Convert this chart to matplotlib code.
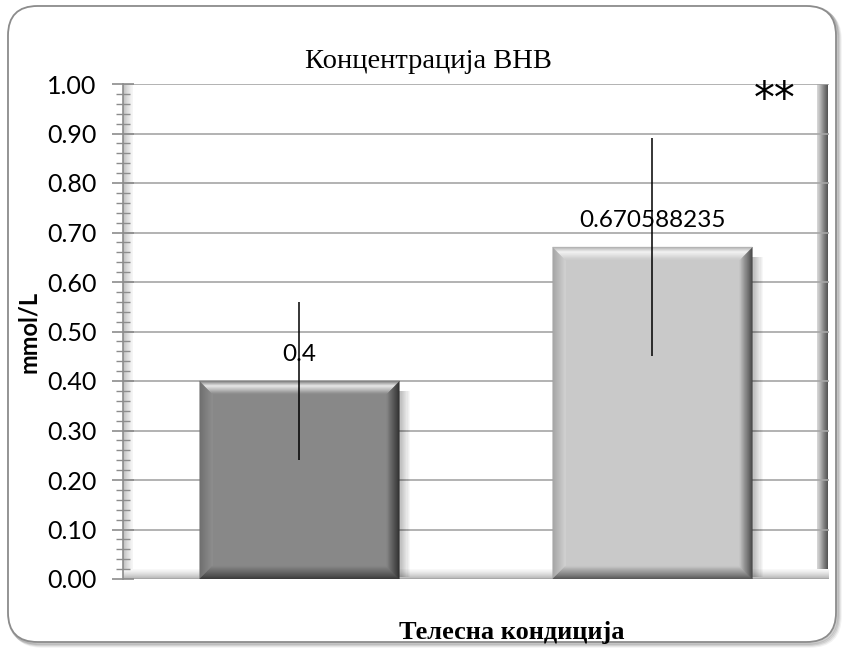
import numpy as np
import matplotlib
matplotlib.use("Agg")
import matplotlib.pyplot as plt
from matplotlib.patches import FancyBboxPatch, Rectangle, Polygon
from matplotlib.ticker import MultipleLocator

categories = ["1", "2"]
values = [0.4, 0.670588235]
errors = [0.16, 0.22]
labels = ["0.4", "0.670588235"]
bar_colors = ["#888888", "#c9c9c9"]
yticks = [0.0, 0.1, 0.2, 0.3, 0.4, 0.5, 0.6, 0.7, 0.8, 0.9, 1.0]
title = "Концентрација BHB"
xlabel = "Телесна кондиција"
ylabel = "mmol/L"

W, H = 845, 656
fig = plt.figure(figsize=(W / 100, H / 100), dpi=100)
fig.patch.set_facecolor("white")

# outer rounded frame with shadow
for i, a in enumerate([0.05, 0.07, 0.09, 0.11]):
    off = (4 - i) * 1.0
    sh = FancyBboxPatch((8 / W + off / W, 14 / H - off / H), 828 / W, 636 / H,
                        boxstyle="round,pad=0,rounding_size=0.035", transform=fig.transFigure,
                        facecolor="none", edgecolor="black", alpha=a, lw=2.5, zorder=0,
                        mutation_aspect=W / H)
    fig.patches.append(sh)
frame = FancyBboxPatch((8 / W, 14 / H), 828 / W, 636 / H,
                       boxstyle="round,pad=0,rounding_size=0.035", transform=fig.transFigure,
                       facecolor="white", edgecolor="#8c8c8c", lw=1.3, zorder=1,
                       mutation_aspect=W / H)
fig.patches.append(frame)

left, right, top, bottom = 123, 829, 84, 579
ax = fig.add_axes([left / W, 1 - bottom / H, (right - left) / W, (bottom - top) / H])
ax.set_zorder(2)
ax.set_facecolor("none")

# walls / floor gradients
g = np.linspace(0, 1, 64).reshape(1, -1)
ax.imshow(g, extent=(0.983, 0.998, 0.02, 1.0), transform=ax.transAxes, cmap="Greys",
          vmin=-0.5, vmax=1.5, aspect="auto", zorder=0.5, interpolation="bilinear")
ax.imshow(1 - g, extent=(0.0, 0.013, 0.0, 1.0), transform=ax.transAxes, cmap="Greys",
          vmin=-0.2, vmax=3.0, aspect="auto", zorder=0.5, interpolation="bilinear")
gv = np.linspace(0, 1, 64).reshape(-1, 1)
ax.imshow(gv, extent=(0.0, 1.0, 0.0, 0.02), transform=ax.transAxes, cmap="Greys",
          vmin=-0.1, vmax=2.5, aspect="auto", zorder=0.5, interpolation="bilinear")
ax.set_xlim(-0.5, 1.5)
ax.set_ylim(0, 1.0)

ax.set_yticks(yticks)
ax.set_yticklabels([f"{t:.2f}" for t in yticks], fontsize=18, family="Lato")
ax.yaxis.set_minor_locator(MultipleLocator(0.02))
ax.tick_params(axis="y", which="major", direction="inout", length=16, width=1.2, color="#8c8c8c", pad=11)
ax.tick_params(axis="y", which="minor", direction="inout", length=10, width=1, color="#8c8c8c")
ax.set_xticks([])
ax.grid(axis="y", color="#a6a6a6", lw=1.2, zorder=1)
for s in ["top", "right", "bottom"]:
    ax.spines[s].set_visible(False)
ax.spines["left"].set_color("#8c8c8c")
ax.spines["left"].set_linewidth(1.2)

x = np.arange(len(categories))
width = 0.565
bars = ax.bar(x, values, width=width, color=bar_colors, zorder=3, edgecolor="none")

# bevel & shadow computed from bars
px_x = 1.0 / ((right - left) / 2.0)
px_y = 1.0 / (bottom - top)
bev = 13
N = 14
for b, c in zip(bars, bar_colors):
    x0, y0 = b.get_x(), b.get_y()
    x1, y1 = x0 + b.get_width(), y0 + b.get_height()
    # soft shadow on the right
    for k in range(1, 10):
        ax.add_patch(Rectangle((x1, y0 + 2 * px_y), k * 1.2 * px_x, (y1 - y0) - 12 * px_y,
                               facecolor="black", alpha=0.03, lw=0, zorder=2.5))
    bx, by = bev * px_x, bev * px_y
    rgb = np.array(matplotlib.colors.to_rgb(c))

    def band(side, col_fn):
        for i in range(N):
            t0, t1 = i / N, (i + 1) / N
            col = np.clip(col_fn((t0 + t1) / 2), 0, 1)
            if side == "top":
                pts = [(x0 + t0 * bx, y1 - t0 * by), (x1 - t0 * bx, y1 - t0 * by),
                       (x1 - t1 * bx, y1 - t1 * by), (x0 + t1 * bx, y1 - t1 * by)]
            elif side == "right":
                pts = [(x1 - t0 * bx, y1 - t0 * by), (x1 - t0 * bx, y0 + t0 * by),
                       (x1 - t1 * bx, y0 + t1 * by), (x1 - t1 * bx, y1 - t1 * by)]
            elif side == "left":
                pts = [(x0 + t0 * bx, y1 - t0 * by), (x0 + t0 * bx, y0 + t0 * by),
                       (x0 + t1 * bx, y0 + t1 * by), (x0 + t1 * bx, y1 - t1 * by)]
            else:
                pts = [(x0 + t0 * bx, y0 + t0 * by), (x1 - t0 * bx, y0 + t0 * by),
                       (x1 - t1 * bx, y0 + t1 * by), (x0 + t1 * bx, y0 + t1 * by)]
            ax.add_patch(Polygon(pts, facecolor=col, edgecolor=col, lw=0.3, zorder=3.2))

    def top_col(t):
        hi = rgb * 0.85 + (np.ones(3) - rgb * 0.85) * 0.9
        if t < 0.4:
            return rgb * 0.85 + (hi - rgb * 0.85) * (t / 0.4)
        return hi * (1 - (t - 0.4) / 0.6) + rgb * ((t - 0.4) / 0.6)

    band("right", lambda t: rgb * (0.3 + 0.7 * t))
    band("left", lambda t: rgb * (0.8 + 0.25 * t))
    band("bottom", lambda t: rgb * (0.4 + 0.6 * t))
    band("top", top_col)

ax.errorbar(x, values, yerr=errors, fmt="none", ecolor="black", elinewidth=1.1, capsize=0, zorder=5)

for xi, v, lab in zip(x, values, labels):
    ax.annotate(lab, (xi, v), xytext=(0, 19), textcoords="offset points", ha="center", va="center",
                fontsize=17.5, family="Lato", zorder=4)

ax.text(0.923, 0.968, "**", transform=ax.transAxes, ha="center", va="center", fontsize=30,
        family="DejaVu Sans", zorder=6)

fig.text(428 / W, 1 - 62 / H, title, ha="center", va="center", fontsize=20.5, family="Liberation Serif")
fig.text(512 / W, 1 - 633 / H, xlabel, ha="center", va="center", fontsize=19, fontweight="bold",
         family="Liberation Serif")
fig.text(29 / W, 1 - 332 / H, ylabel, ha="center", va="center", rotation=90, fontsize=17,
         fontweight="bold", family="Lato")

fig.savefig("out.png", dpi=100)
